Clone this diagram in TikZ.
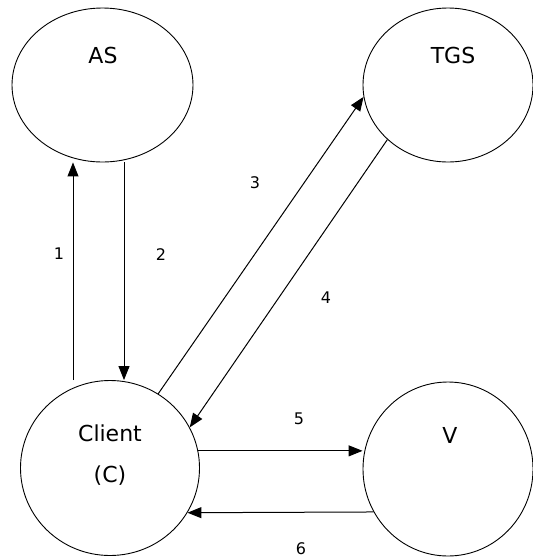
\documentclass[tikz,border=0pt]{standalone}
\usepackage{fontspec}
\setmainfont{DejaVu Sans}
\usetikzlibrary{shapes.geometric,arrows.meta}

\tikzset{
  party/.style={draw,ellipse,inner sep=0pt,line width=0.9pt},
  partyname/.style={font=\fontsize{22}{24}\selectfont},
  msgno/.style={font=\fontsize{16}{18}\selectfont},
  msg/.style={line width=1pt,-{Triangle[length=14pt,width=11pt]}}
}

\begin{document}
\begin{tikzpicture}[x=1pt,y=-1pt]
      \useasboundingbox (0,0) rectangle (533,558);
      % the four parties
      \node[party,minimum width=181pt,minimum height=154pt] (as) at (102.5,85) {};
      \node[party,minimum width=170pt,minimum height=154pt] (tgs) at (448,85) {};
      \node[party,minimum width=179pt,minimum height=175pt] (client) at (110,468) {};
      \node[party,minimum width=170pt,minimum height=174pt] (v) at (448,469) {};
      \node[partyname] (astext) at (103,55) {AS};
      \node[partyname] (tgstext) at (453,55) {TGS};
      \node[partyname] (clienttext) at (110,433) {Client};
      \node[partyname] (ctext) at (110,476) {(C)};
      \node[partyname] (vtext) at (450,435) {V};
      % messages 1 to 6
      \draw[msg] ([xshift=-37pt]client.north) -- ([xshift=-29.5pt]as.south);
      \draw[msg] ([xshift=21.5pt]as.south) -- ([xshift=14pt]client.north);
      \draw[msg] (client.57) -- (tgs.188);
      \draw[msg] (tgs.222) -- (client.27);
      \draw[msg] (client.11) -- (client.11 -| v.west);
      \draw[msg] (v.210) -- (client.330);
      \node[msgno] (m1) at (59,254) {1};
      \node[msgno] (m2) at (161,255) {2};
      \node[msgno] (m3) at (255,183) {3};
      \node[msgno] (m4) at (326,298) {4};
      \node[msgno] (m5) at (299,419) {5};
      \node[msgno] (m6) at (301,549) {6};
\end{tikzpicture}
\end{document}
